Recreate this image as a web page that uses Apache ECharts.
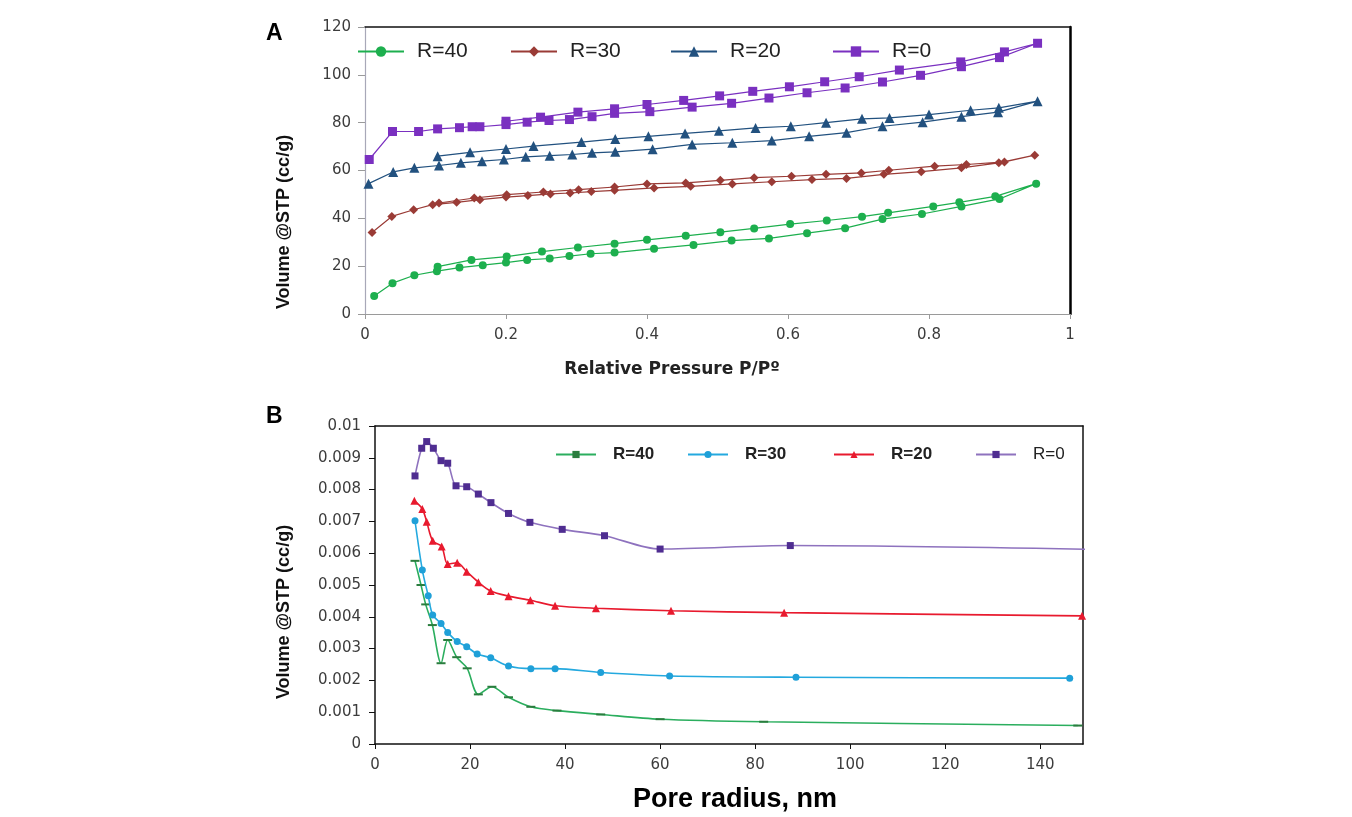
<!DOCTYPE html>
<html>
<head>
<meta charset="utf-8">
<script src="https://cdn.jsdelivr.net/npm/echarts@6/dist/echarts.min.js"></script>
<style>
html,body{margin:0;padding:0;background:#fff;}
#chart{width:1352px;height:817px;}
</style>
</head>
<body>
<div id="chart"></div>
<script>
// ---------- Panel A: N2 isotherms (adsorption branch, then desorption branch) ----------
const seriesNames = ['R=40', 'R=30', 'R=20', 'R=0'];

const pR40 = [0.013,0.039,0.070,0.102,0.134,0.167,0.200,0.230,0.262,0.290,0.320,0.354,0.410,0.466,0.520,0.573,0.627,0.681,0.734,0.790,0.846,0.900,0.952,
              0.894,0.843,0.806,0.742,0.705,0.655,0.603,0.552,0.504,0.455,0.400,0.354,0.302,0.251,0.201,0.151,0.103];
const vR40 = [7.5,12.9,16.2,17.9,19.4,20.4,21.5,22.6,23.2,24.2,25.2,25.7,27.3,28.9,30.7,31.6,33.8,35.9,39.7,41.8,45.0,48.1,54.5,
              49.2,46.7,45.0,42.3,40.7,39.1,37.6,35.8,34.2,32.7,31.0,29.4,27.8,26.1,24.0,22.6,19.8];

const pR30 = [0.010,0.038,0.069,0.096,0.130,0.163,0.200,0.231,0.263,0.291,0.321,0.354,0.410,0.462,0.521,0.577,0.634,0.683,0.736,0.789,0.846,0.899,0.950,
              0.907,0.853,0.808,0.743,0.704,0.654,0.605,0.552,0.504,0.455,0.400,0.354,0.303,0.253,0.201,0.155,0.105];
const vR30 = [34.1,40.8,43.6,45.7,46.7,47.8,48.9,49.5,50.2,50.6,51.2,51.7,52.7,53.4,54.4,55.3,56.2,56.7,58.4,59.5,61.1,63.2,66.4,
              63.6,62.5,61.8,60.1,59.0,58.4,57.6,57.0,55.9,54.8,54.4,53.1,52.0,51.0,49.9,48.5,46.4];

const pR20 = [0.005,0.040,0.070,0.105,0.136,0.166,0.197,0.228,0.262,0.294,0.322,0.355,0.408,0.464,0.521,0.577,0.630,0.683,0.734,0.791,0.846,0.898,0.954,
              0.899,0.859,0.800,0.744,0.705,0.654,0.604,0.554,0.502,0.454,0.402,0.355,0.307,0.239,0.200,0.149,0.103];
const vR20 = [54.5,59.4,61.1,62.1,63.2,63.9,64.6,65.7,66.2,66.7,67.4,67.8,68.9,70.9,71.6,72.5,74.3,75.8,78.5,80.2,82.5,84.4,89.0,
              86.2,85.2,83.4,82.0,81.6,80.0,78.5,77.8,76.6,75.5,74.3,73.2,71.9,70.2,69.0,67.6,66.0];

const pR0 = [0.006,0.039,0.076,0.103,0.134,0.152,0.163,0.200,0.230,0.261,0.290,0.322,0.354,0.404,0.464,0.520,0.573,0.627,0.681,0.734,0.788,0.846,0.900,0.954,
             0.907,0.845,0.758,0.701,0.652,0.602,0.550,0.503,0.452,0.400,0.354,0.302,0.249,0.200];
const vR0 = [64.6,76.3,76.3,77.4,77.9,78.3,78.3,79.2,80.2,80.9,81.3,82.5,83.9,84.6,86.5,88.1,90.3,92.5,94.5,97.0,99.8,103.4,107.2,113.2,
             109.6,105.4,102.0,99.2,97.1,95.0,93.1,91.2,89.3,87.6,85.8,84.4,82.3,80.6];

const ticksAX = [0, 0.2, 0.4, 0.6, 0.8, 1];
const ticksAY = [0, 20, 40, 60, 80, 100, 120];

// ---------- Panel B: pore size distributions ----------
const rR40 = [8.42,9.68,10.67,12.07,13.9,15.3,17.2,19.4,21.75,24.6,28.1,32.8,38.3,47.5,60.0,81.8,147.9];
const dR40 = [0.00576,0.00500,0.00439,0.00374,0.00254,0.00327,0.00273,0.00238,0.00156,0.00180,0.00147,0.00117,0.00105,0.00093,0.00078,0.00070,0.00058];

const rR30 = [8.42,9.96,11.2,12.14,13.9,15.3,17.3,19.3,21.5,24.35,28.1,32.8,37.9,47.5,62.0,88.6,146.2];
const dR30 = [0.00702,0.00547,0.00466,0.00406,0.00379,0.00351,0.00322,0.00306,0.00283,0.00271,0.00245,0.00237,0.00237,0.00225,0.00214,0.00210,0.00207];

const rR20 = [8.28,9.96,10.88,12.14,14.04,15.3,17.3,19.3,21.75,24.35,28.1,32.7,37.9,46.5,62.3,86.1,148.8];
const dR20 = [0.00765,0.00739,0.00699,0.00639,0.00621,0.00566,0.00570,0.00542,0.00509,0.00481,0.00465,0.00452,0.00435,0.00427,0.00419,0.00413,0.00403];

const rR0 = [8.42,9.83,10.88,12.28,13.9,15.3,17.05,19.3,21.75,24.4,28.1,32.6,39.4,48.3,60.0,87.4,150.5];
const dR0 = [0.00843,0.00930,0.00951,0.00930,0.00891,0.00883,0.00812,0.00809,0.00786,0.00759,0.00725,0.00697,0.00675,0.00655,0.00613,0.00624,0.00612];

const ticksBX = [0, 20, 40, 60, 80, 100, 120, 140];
const ticksBY = [0, 0.001, 0.002, 0.003, 0.004, 0.005, 0.006, 0.007, 0.008, 0.009, 0.01];

// ---------- build ----------
const zip = (xs, ys) => xs.map((x, i) => [x, ys[i]]);

const colA = ['#1DAF4E', '#9A3B36', '#22517F', '#7A30C0'];
const symA = ['circle', 'diamond', 'triangle', 'rect'];
const sizeA = [8, 9, 10, 9];
const dataA = [zip(pR40, vR40), zip(pR30, vR30), zip(pR20, vR20), zip(pR0, vR0)];

const lineColB = ['#2BAE5E', '#24A9DF', '#E81A2E', '#8E72BE'];
const markColB = ['#2A7D3E', '#1FA0D8', '#E81A2E', '#4F2D91'];
const symB = ['rect', 'circle', 'triangle', 'rect'];
const sizeB = [[9, 2], 7, 8, 7];
const dataB = [zip(rR40, dR40), zip(rR30, dR30), zip(rR20, dR20), zip(rR0, dR0)];

const tickFont = {fontFamily: 'DejaVu Sans', fontSize: 15, color: '#3c3c3c'};

const series = [];
seriesNames.forEach((n, i) => {
  series.push({
    name: n, type: 'line', xAxisIndex: 0, yAxisIndex: 0,
    data: dataA[i], symbol: symA[i], symbolSize: sizeA[i],
    itemStyle: {color: colA[i]},
    lineStyle: {color: colA[i], width: 1.2},
    z: 3 + i
  });
});
seriesNames.forEach((n, i) => {
  series.push({
    name: 'B: ' + n, type: 'line', xAxisIndex: 2, yAxisIndex: 2,
    data: dataB[i], symbol: symB[i], symbolSize: sizeB[i],
    smooth: 0.3, clip: true,
    itemStyle: {color: markColB[i]},
    lineStyle: {color: lineColB[i], width: 1.6},
    z: 3 + i
  });
});

const legA = [[357, 'R=40'], [510, 'R=30'], [670, 'R=20'], [832, 'R=0']].map(([l, n]) => ({
  data: [n], left: l, top: 41, padding: 0, itemWidth: 46, itemHeight: 13, itemGap: 0,
  textStyle: {fontFamily: 'Liberation Sans', fontSize: 21, color: '#222', padding: [0, 0, 0, 8]},
  selectedMode: false
}));
const legB = [[555, 'R=40', 'bold'], [687, 'R=30', 'bold'], [833, 'R=20', 'bold'], [975, 'R=0', 'normal']].map(([l, n, w]) => ({
  data: ['B: ' + n], left: l, top: 446, padding: 0, itemWidth: 40, itemHeight: 9, itemGap: 0,
  formatter: name => name.slice(3),
  textStyle: {fontFamily: 'Liberation Sans', fontSize: 17, fontWeight: w, color: '#222', padding: [0, 0, 0, 12]},
  selectedMode: false
}));

const option = {
  backgroundColor: '#fff',
  animation: false,
  grid: [
    {left: 365, top: 27, right: 282, bottom: 503},
    {left: 375, top: 426, right: 269, bottom: 73}
  ],
  legend: legA.concat(legB),
  xAxis: [
    {type: 'value', gridIndex: 0, min: ticksAX[0], max: ticksAX[ticksAX.length - 1], interval: 0.2,
     axisLine: {lineStyle: {color: '#9a9a9a', width: 1.2}},
     axisTick: {show: true, length: 5, lineStyle: {color: '#9a9a9a'}},
     axisLabel: Object.assign({margin: 14}, tickFont), splitLine: {show: false}},
    {type: 'value', gridIndex: 0, position: 'top', min: 0, max: 1,
     axisLine: {show: true, onZero: false, lineStyle: {color: '#111', width: 1.5}},
     axisTick: {show: false}, axisLabel: {show: false}, splitLine: {show: false}},
    {type: 'value', gridIndex: 1, min: ticksBX[0], max: 149, interval: 20,
     axisLine: {lineStyle: {color: '#111', width: 1.5}},
     axisTick: {show: true, length: 5, lineStyle: {color: '#111'}},
     axisLabel: Object.assign({margin: 14, showMaxLabel: false,
       formatter: v => (v % 20 === 0 ? String(v) : '')}, tickFont),
     splitLine: {show: false}},
    {type: 'value', gridIndex: 1, position: 'top', min: 0, max: 149,
     axisLine: {show: true, onZero: false, lineStyle: {color: '#111', width: 1.5}},
     axisTick: {show: false}, axisLabel: {show: false}, splitLine: {show: false}}
  ],
  yAxis: [
    {type: 'value', gridIndex: 0, min: ticksAY[0], max: ticksAY[ticksAY.length - 1], interval: 20,
     axisLine: {show: true, lineStyle: {color: '#a8a8b8', width: 1.2}},
     axisTick: {show: true, length: 7, lineStyle: {color: '#9a9a9a'}},
     axisLabel: Object.assign({margin: 14}, tickFont), splitLine: {show: false}},
    {type: 'value', gridIndex: 0, position: 'right', min: 0, max: 120,
     axisLine: {show: true, onZero: false, lineStyle: {color: '#000', width: 2.5}},
     axisTick: {show: false}, axisLabel: {show: false}, splitLine: {show: false}},
    {type: 'value', gridIndex: 1, min: ticksBY[0], max: ticksBY[ticksBY.length - 1], interval: 0.001,
     axisLine: {show: true, lineStyle: {color: '#111', width: 1.5}},
     axisTick: {show: true, length: 6, lineStyle: {color: '#111'}},
     axisLabel: Object.assign({margin: 14, formatter: v => String(parseFloat(v.toFixed(3)))}, tickFont),
     splitLine: {show: false}},
    {type: 'value', gridIndex: 1, position: 'right', min: 0, max: 0.01,
     axisLine: {show: true, onZero: false, lineStyle: {color: '#111', width: 1.5}},
     axisTick: {show: false}, axisLabel: {show: false}, splitLine: {show: false}}
  ],
  graphic: [
    {type: 'text', left: 266, top: 22, style: {text: 'A', font: 'bold 23px "Liberation Sans"', fill: '#000'}},
    {type: 'text', left: 266, top: 405, style: {text: 'B', font: 'bold 23px "Liberation Sans"', fill: '#000'}},
    {type: 'text', x: 284, y: 222, rotation: Math.PI / 2,
     style: {text: 'Volume @STP (cc/g)', font: 'bold 18px "Liberation Sans"', fill: '#111', align: 'center', verticalAlign: 'middle'}},
    {type: 'text', x: 284, y: 612, rotation: Math.PI / 2,
     style: {text: 'Volume @STP (cc/g)', font: 'bold 18px "Liberation Sans"', fill: '#111', align: 'center', verticalAlign: 'middle'}},
    {type: 'text', x: 672, y: 370,
     style: {text: 'Relative Pressure P/Pº', font: 'bold 17px "DejaVu Sans"', fill: '#222', align: 'center', verticalAlign: 'middle'}},
    {type: 'text', x: 735, y: 800,
     style: {text: 'Pore radius, nm', font: 'bold 27px "Liberation Sans"', fill: '#000', align: 'center', verticalAlign: 'middle'}}
  ],
  series: series
};

const chart = echarts.init(document.getElementById('chart'), null, {renderer: 'canvas'});
chart.setOption(option);
</script>
</body>
</html>
